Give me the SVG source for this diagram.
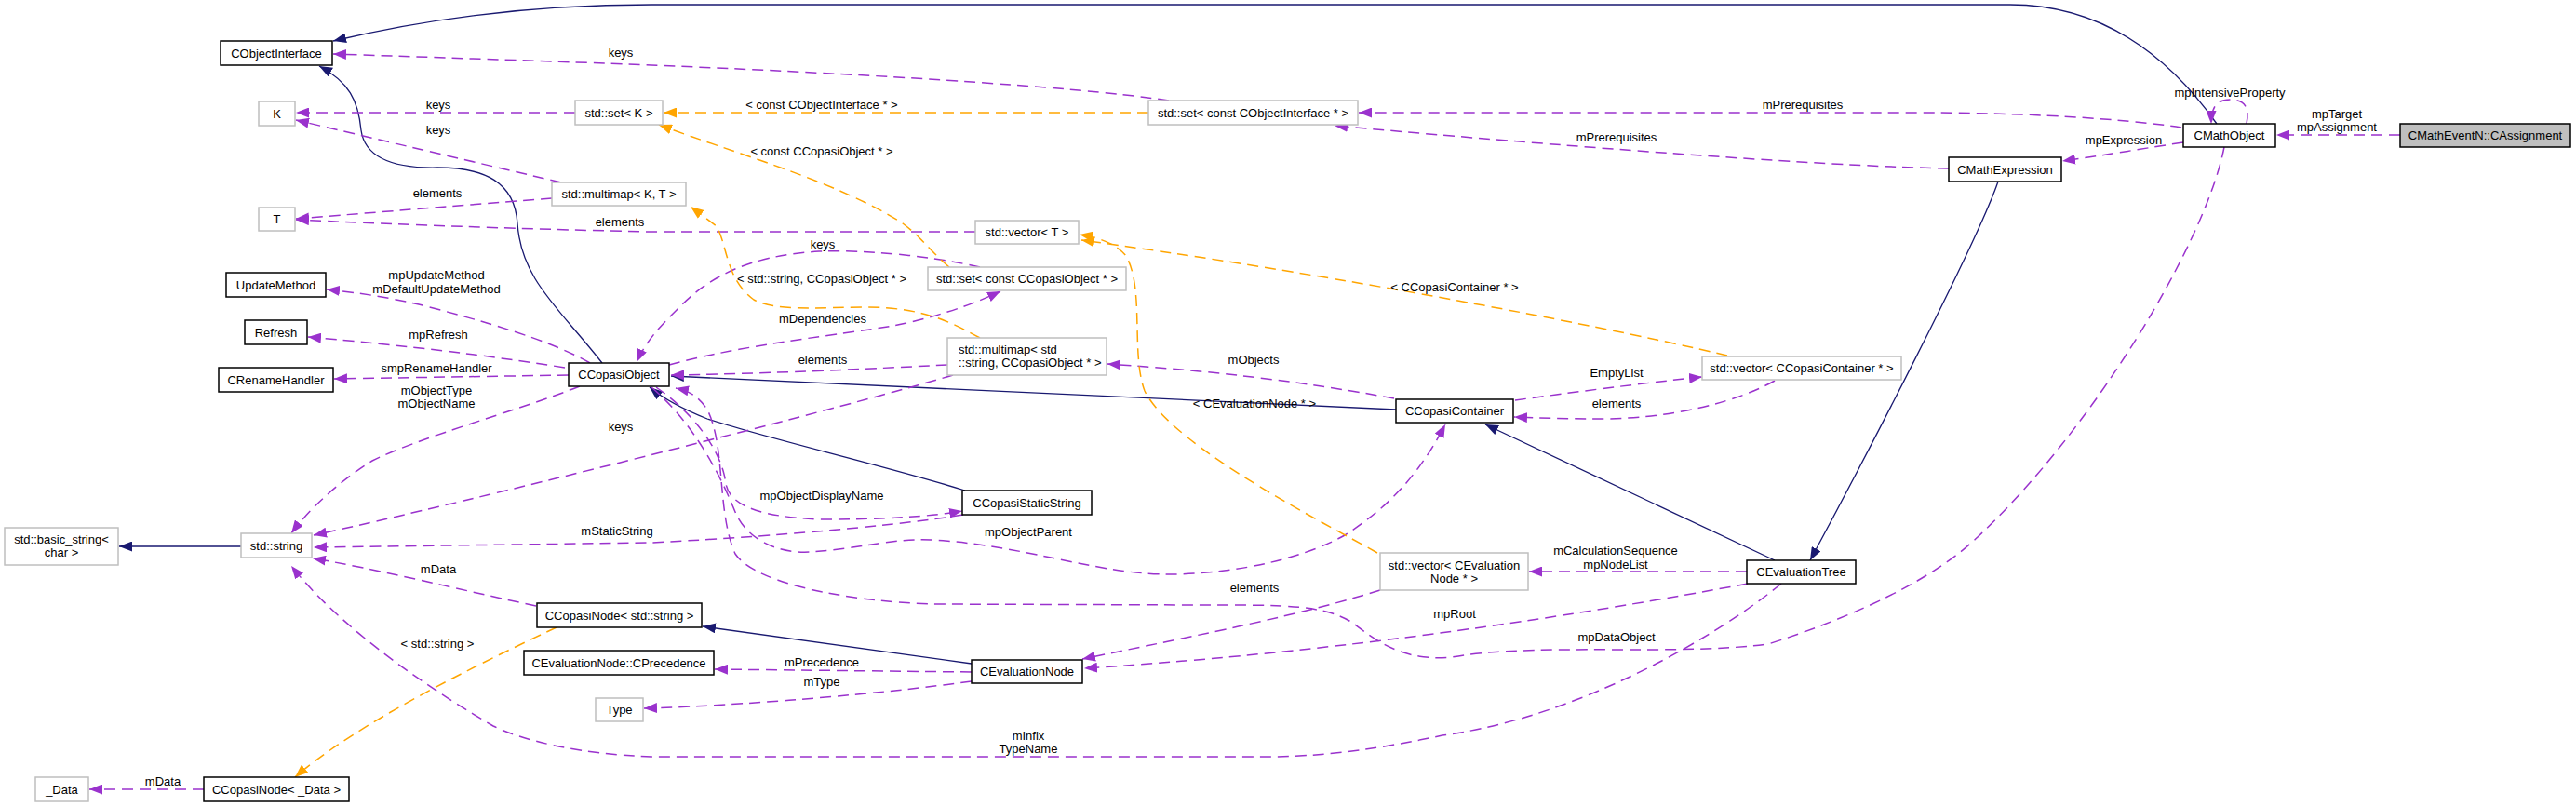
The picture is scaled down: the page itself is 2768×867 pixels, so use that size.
<svg xmlns="http://www.w3.org/2000/svg" width="2768" height="867" viewBox="0 0 2768 867">
<style>
text{font-family:"Liberation Sans",Arial,sans-serif;font-size:13px;text-anchor:middle;fill:#000}
.n rect{fill:#fff;stroke:#000;stroke-width:1.5}
.g rect{fill:#fff;stroke:#bfbfbf;stroke-width:1.5}
.h rect{fill:#bfbfbf;stroke:#000;stroke-width:1.5}
#edges path{fill:none}
.inh{stroke:#191970;stroke-width:1.3;marker-end:url(#ab)}
.use{stroke:#9a32cd;stroke-width:1.5;stroke-dasharray:12,7;marker-end:url(#ap)}
.tpl{stroke:#ffa500;stroke-width:1.5;stroke-dasharray:12,7;marker-end:url(#ao)}
</style>
<defs>
<marker id="ab" markerUnits="userSpaceOnUse" markerWidth="15" markerHeight="11" refX="14" refY="5.5" orient="auto"><path d="M0,0 L14,5.5 L0,11 z" fill="#191970"/></marker>
<marker id="ap" markerUnits="userSpaceOnUse" markerWidth="15" markerHeight="11" refX="14" refY="5.5" orient="auto"><path d="M0,0 L14,5.5 L0,11 z" fill="#9a32cd"/></marker>
<marker id="ao" markerUnits="userSpaceOnUse" markerWidth="15" markerHeight="11" refX="14" refY="5.5" orient="auto"><path d="M0,0 L14,5.5 L0,11 z" fill="#ffa500"/></marker>
</defs>
<rect width="2768" height="867" fill="#fff"/>
<g id="edges">
<path class="inh" d="M2382,133 C2330,60 2260,5 2160,5 L700,5 C560,5 450,22 358,44"/>
<path class="inh" d="M647,390 C600,330 560,300 556,240 C553,195 520,180 470,180 C420,181 392,168 388,140 C385,108 375,88 343,71"/>
<path class="inh" d="M1037,527 C950,500 820,470 760,450 C735,440 715,430 698,416"/>
<path class="inh" d="M1500,440 L721,404"/>
<path class="inh" d="M1907,602 L1596,456"/>
<path class="inh" d="M2147,195 C2125,260 2000,500 1945,602"/>
<path class="inh" d="M1044,713 L755,673"/>
<path class="inh" d="M259,587 L128,587"/>

<path class="use" d="M2414,133 C2418,113 2410,107 2396,107 C2382,107 2376,115 2376,133"/>
<path class="use" d="M2579,145 L2446,145"/>
<path class="use" d="M2346,153 C2300,160 2260,167 2216,173"/>
<path class="use" d="M2344,137 C2300,130 2200,121 2060,121 L1460,121"/>
<path class="use" d="M2094,181 L2060,180 C1900,175 1600,150 1434,135"/>
<path class="use" d="M1256,108 C1150,92 900,78 700,70 C600,66 450,61 358,58"/>
<path class="use" d="M618,121 L318,121"/>
<path class="use" d="M603,196 L318,129"/>
<path class="use" d="M593,213 L318,235"/>
<path class="use" d="M1048,249 L700,249 C550,246 400,240 318,236"/>
<path class="use" d="M719,392 C800,370 900,360 960,350 C1010,340 1050,325 1075,313"/>
<path class="use" d="M1053,287 C1000,275 930,268 880,270 C800,275 760,300 730,330 C710,350 695,365 684,389"/>
<path class="use" d="M1018,392 C900,398 800,402 721,403"/>
<path class="use" d="M1024,403 C900,440 500,540 337,575"/>
<path class="use" d="M634,390 C590,365 520,345 450,327 C410,318 380,314 351,311"/>
<path class="use" d="M607,395 C500,378 400,368 331,362"/>
<path class="use" d="M611,403 L359,407"/>
<path class="use" d="M623,415 C560,440 450,470 400,495 C360,520 330,550 313,573"/>
<path class="use" d="M1035,553 C950,567 800,578 700,583 L337,588"/>
<path class="use" d="M705,416 C740,440 775,480 780,520 C785,545 820,555 880,558 C950,558 1000,555 1034,549"/>
<path class="use" d="M700,416 C740,450 770,500 790,550 C800,575 830,595 870,593 C920,590 960,578 1000,580 C1100,585 1180,618 1260,617 C1330,616 1400,600 1445,575 C1500,540 1530,500 1553,456"/>
<path class="use" d="M2390,158 C2370,260 2250,460 2125,577 C2080,620 2000,660 1900,692 C1800,705 1650,690 1560,706 C1500,712 1470,680 1450,667 C1420,650 1380,650 1300,650 L1000,649 C900,645 810,625 790,595 C770,550 780,480 760,440 C750,425 740,420 726,417"/>
<path class="use" d="M1498,428 C1400,410 1300,398 1190,391"/>
<path class="use" d="M1628,430 C1700,420 1780,410 1829,405"/>
<path class="use" d="M1907,409 C1870,430 1800,450 1720,450 C1680,450 1650,449 1627,448"/>
<path class="use" d="M1877,614 L1643,614"/>
<path class="use" d="M1878,627 C1700,660 1450,700 1165,718"/>
<path class="use" d="M1483,634 C1400,660 1300,680 1163,708"/>
<path class="use" d="M1914,627 C1850,680 1700,770 1550,790 C1480,805 1420,813 1360,813 L700,813 C620,810 560,795 530,780 C470,745 370,680 313,608"/>
<path class="use" d="M1044,722 L768,719"/>
<path class="use" d="M1044,732 C950,745 800,758 692,761"/>
<path class="use" d="M576,651 C500,635 400,610 336,600"/>
<path class="use" d="M219,848 L96,848"/>

<path class="tpl" d="M1234,121 L713,121"/>
<path class="tpl" d="M1020,287 C1000,270 990,255 970,240 C900,195 790,165 708,134"/>
<path class="tpl" d="M1053,363 C1020,345 990,330 930,330 C880,330 835,335 810,322 C780,300 782,265 770,243 L742,222"/>
<path class="tpl" d="M1480,594 C1420,560 1260,480 1230,420 C1215,380 1230,310 1210,275 C1200,262 1180,255 1160,252"/>
<path class="tpl" d="M1856,382 C1700,345 1400,290 1162,258"/>
<path class="tpl" d="M598,674 C500,720 380,780 317,835"/>

<text x="2396" y="104">mpIntensiveProperty</text>
<text x="2511" y="127">mpTarget</text>
<text x="2511" y="141">mpAssignment</text>
<text x="2282" y="155">mpExpression</text>
<text x="1937" y="117">mPrerequisites</text>
<text x="1737" y="152">mPrerequisites</text>
<text x="667" y="61">keys</text>
<text x="471" y="117">keys</text>
<text x="471" y="144">keys</text>
<text x="470" y="212">elements</text>
<text x="666" y="243">elements</text>
<text x="884" y="347">mDependencies</text>
<text x="884" y="267">keys</text>
<text x="884" y="391">elements</text>
<text x="667" y="463">keys</text>
<text x="469" y="300">mpUpdateMethod</text>
<text x="469" y="315">mDefaultUpdateMethod</text>
<text x="471" y="364">mpRefresh</text>
<text x="469" y="400">smpRenameHandler</text>
<text x="469" y="424">mObjectType</text>
<text x="469" y="438">mObjectName</text>
<text x="663" y="575">mStaticString</text>
<text x="883" y="537">mpObjectDisplayName</text>
<text x="1105" y="576">mpObjectParent</text>
<text x="1737" y="689">mpDataObject</text>
<text x="1347" y="391">mObjects</text>
<text x="1737" y="405">EmptyList</text>
<text x="1737" y="438">elements</text>
<text x="1736" y="596">mCalculationSequence</text>
<text x="1736" y="611">mpNodeList</text>
<text x="1563" y="664">mpRoot</text>
<text x="1348" y="636">elements</text>
<text x="1105" y="795">mInfix</text>
<text x="1105" y="809">TypeName</text>
<text x="883" y="716">mPrecedence</text>
<text x="883" y="737">mType</text>
<text x="471" y="616">mData</text>
<text x="175" y="844">mData</text>
<text x="883" y="117">&lt; const CObjectInterface * &gt;</text>
<text x="883" y="167">&lt; const CCopasiObject * &gt;</text>
<text x="883" y="304">&lt; std::string, CCopasiObject * &gt;</text>
<text x="1348" y="438">&lt; CEvaluationNode * &gt;</text>
<text x="1563" y="313">&lt; CCopasiContainer * &gt;</text>
<text x="470" y="696">&lt; std::string &gt;</text>
</g>

<g id="CObjectInterface" class="n"><rect x="237" y="44" width="120" height="26"/><text x="297" y="61.5">CObjectInterface</text></g>
<g id="K" class="g"><rect x="278" y="109" width="39" height="26"/><text x="297.5" y="126.5">K</text></g>
<g id="T" class="g"><rect x="278" y="223" width="39" height="25"/><text x="297.5" y="240">T</text></g>
<g id="UpdateMethod" class="n"><rect x="243" y="293" width="107" height="26"/><text x="296.5" y="310.5">UpdateMethod</text></g>
<g id="Refresh" class="n"><rect x="263" y="344" width="67" height="26"/><text x="296.5" y="361.5">Refresh</text></g>
<g id="CRenameHandler" class="n"><rect x="235" y="395" width="123" height="26"/><text x="296.5" y="412.5">CRenameHandler</text></g>
<g id="basic_string" class="g"><rect x="5" y="567" width="122" height="40"/><text x="66" y="584">std::basic_string&lt;</text><text x="66" y="598">char &gt;</text></g>
<g id="std_string" class="g"><rect x="259" y="573" width="76" height="26"/><text x="297" y="590.5">std::string</text></g>
<g id="_Data" class="g"><rect x="38" y="835" width="57" height="26"/><text x="66.5" y="852.5">_Data</text></g>
<g id="CCopasiNode_Data" class="n"><rect x="219" y="835" width="156" height="26"/><text x="297" y="852.5">CCopasiNode&lt; _Data &gt;</text></g>
<g id="CCopasiNode_string" class="n"><rect x="577" y="648" width="177" height="26"/><text x="665.5" y="665.5">CCopasiNode&lt; std::string &gt;</text></g>
<g id="CPrecedence" class="n"><rect x="563" y="699" width="204" height="26"/><text x="665" y="716.5">CEvaluationNode::CPrecedence</text></g>
<g id="Type" class="g"><rect x="640" y="750" width="51" height="25"/><text x="665.5" y="767">Type</text></g>
<g id="set_K" class="g"><rect x="618" y="108" width="94" height="26"/><text x="665" y="125.5">std::set&lt; K &gt;</text></g>
<g id="multimap_KT" class="g"><rect x="593" y="196" width="144" height="25"/><text x="665" y="213">std::multimap&lt; K, T &gt;</text></g>
<g id="CCopasiObject" class="n"><rect x="611" y="390" width="108" height="25"/><text x="665" y="407">CCopasiObject</text></g>
<g id="vector_T" class="g"><rect x="1048" y="237" width="111" height="25"/><text x="1103.5" y="254">std::vector&lt; T &gt;</text></g>
<g id="set_CCopasiObject" class="g"><rect x="997" y="287" width="213" height="25"/><text x="1103.5" y="304">std::set&lt; const CCopasiObject * &gt;</text></g>
<g id="multimap_string" class="g"><rect x="1018" y="363" width="171" height="40"/><text x="1030" y="380" style="text-anchor:start">std::multimap&lt; std</text><text x="1030" y="394" style="text-anchor:start">::string, CCopasiObject * &gt;</text></g>
<g id="CCopasiStaticString" class="n"><rect x="1034" y="527" width="139" height="26"/><text x="1103.5" y="544.5">CCopasiStaticString</text></g>
<g id="set_CObjectInterface" class="g"><rect x="1234" y="108" width="225" height="26"/><text x="1346.5" y="125.5">std::set&lt; const CObjectInterface * &gt;</text></g>
<g id="CCopasiContainer" class="n"><rect x="1500" y="429" width="126" height="25"/><text x="1563" y="446">CCopasiContainer</text></g>
<g id="vector_CCopasiContainer" class="g"><rect x="1829" y="383" width="214" height="25"/><text x="1936" y="400">std::vector&lt; CCopasiContainer * &gt;</text></g>
<g id="vector_CEvaluationNode" class="g"><rect x="1483" y="594" width="159" height="40"/><text x="1562.5" y="612">std::vector&lt; CEvaluation</text><text x="1562.5" y="626">Node * &gt;</text></g>
<g id="CEvaluationNode" class="n"><rect x="1044" y="709" width="119" height="25"/><text x="1103.5" y="726">CEvaluationNode</text></g>
<g id="CEvaluationTree" class="n"><rect x="1877" y="602" width="117" height="25"/><text x="1935.5" y="619">CEvaluationTree</text></g>
<g id="CMathExpression" class="n"><rect x="2094" y="169" width="121" height="26"/><text x="2154.5" y="186.5">CMathExpression</text></g>
<g id="CMathObject" class="n"><rect x="2346" y="133" width="99" height="25"/><text x="2395.5" y="150">CMathObject</text></g>
<g id="CAssignment" class="h"><rect x="2579" y="133" width="183" height="25"/><text x="2670.5" y="150">CMathEventN::CAssignment</text></g>
</svg>
